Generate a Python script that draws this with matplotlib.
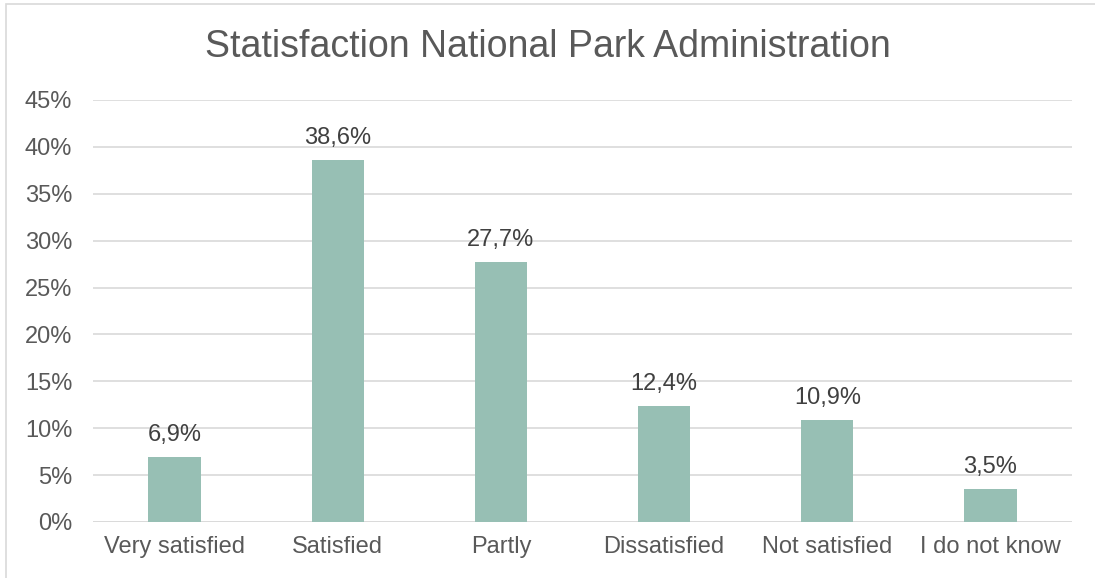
import matplotlib.pyplot as plt
from matplotlib.patches import Rectangle

categories = ['Very satisfied', 'Satisfied', 'Partly', 'Dissatisfied', 'Not satisfied', 'I do not know']
values = [6.9, 38.6, 27.7, 12.4, 10.9, 3.5]
labels = ['6,9%', '38,6%', '27,7%', '12,4%', '10,9%', '3,5%']
yticks = [0, 5, 10, 15, 20, 25, 30, 35, 40, 45]

plt.rcParams['font.family'] = ['Liberation Sans', 'DejaVu Sans']
text_col = '#595959'

fig = plt.figure(figsize=(10.95, 5.78), dpi=100)
# chart frame
fig.patches.append(Rectangle((6 / 1095, -0.1), 1.2, (574 + 58) / 578, transform=fig.transFigure,
                             fill=False, edgecolor='#d9d9d9', linewidth=1.2))

ax = fig.add_axes([93 / 1095, 1 - 522 / 578, (1072 - 93) / 1095, 422 / 578])
x = list(range(len(categories)))
bars = ax.bar(x, values, width=0.32, color='#97bfb4', zorder=3)

for b, lab in zip(bars, labels):
    ax.annotate(lab, (b.get_x() + b.get_width() / 2, b.get_height()), xytext=(0, 8),
                textcoords='offset points', ha='center', va='bottom', fontsize=17, color='#404040')

ax.set_xlim(-0.5, len(categories) - 0.5)
ax.set_ylim(0, 45)
ax.set_yticks(yticks)
ax.set_yticklabels([f'{t}%' for t in yticks])
ax.set_xticks(x)
ax.set_xticklabels(categories)
ax.tick_params(axis='both', length=0, labelsize=17, labelcolor=text_col)
ax.tick_params(axis='y', pad=15)
ax.tick_params(axis='x', pad=10)
ax.grid(axis='y', color='#d9d9d9', linewidth=1.2, zorder=0)
for s in ax.spines.values():
    s.set_visible(False)
ax.axhline(0, color='#d9d9d9', linewidth=1.2, zorder=2)

fig.text(0.5, 1 - 47 / 578, 'Statisfaction National Park Administration', ha='center', va='center',
         fontsize=27, color=text_col)

fig.savefig('out.png', dpi=100)
